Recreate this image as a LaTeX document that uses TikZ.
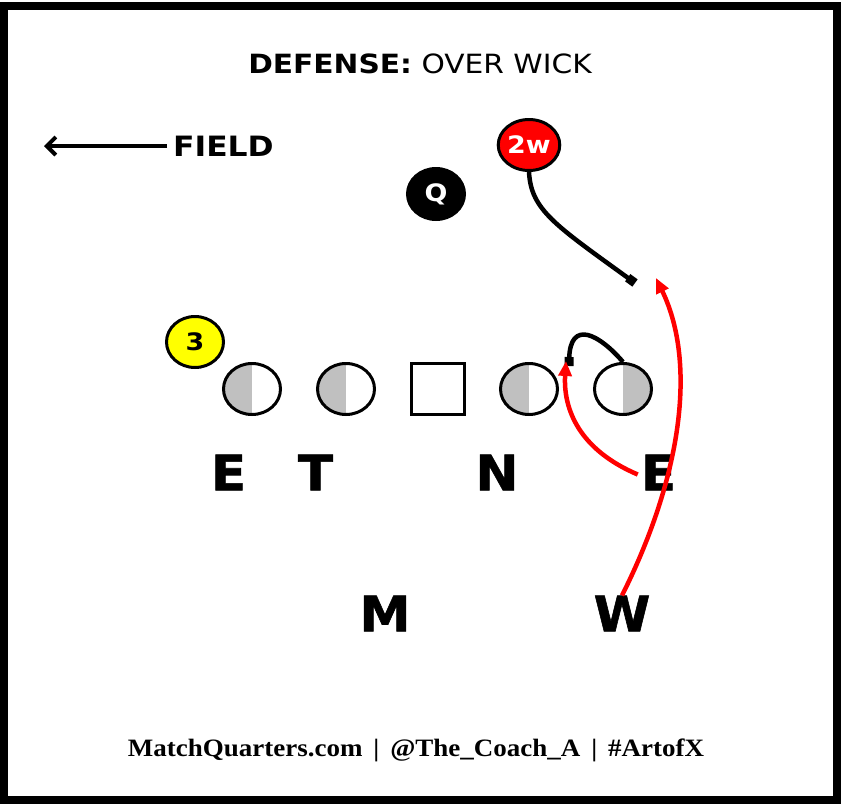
\documentclass[tikz,border=0pt]{standalone}
\usepackage{fontspec}
\setmainfont{DejaVu Sans}
\newfontfamily\widesans{DejaVu Sans}[FakeStretch=1.12]
\newfontfamily\heavysans{DejaVu Sans}[FakeStretch=1.05,FakeBold=1.2]
\newfontfamily\footfont{Liberation Serif}[FakeStretch=1.08]
\usetikzlibrary{arrows.meta,shapes.geometric}
\definecolor{halfgray}{HTML}{C0C0C0}
\definecolor{playred}{HTML}{FF0000}
\definecolor{playyellow}{HTML}{FFFF00}
\begin{document}
\begin{tikzpicture}[x=1pt,y=-1pt,
  player/.style={ellipse,draw=black,line width=3pt,minimum width=57pt,minimum height=51pt,inner sep=0pt,font=\widesans\fontsize{24}{24}\selectfont\bfseries},
  dlinel/.style={player,path picture={\fill[halfgray] (path picture bounding box.south west) rectangle (path picture bounding box.north);}},
  dliner/.style={player,path picture={\fill[halfgray] (path picture bounding box.south) rectangle (path picture bounding box.north east);}},
  centerbox/.style={rectangle,draw=black,line width=3pt,minimum width=53pt,minimum height=51pt,inner sep=0pt},
  bigletter/.style={inner sep=0pt,font=\heavysans\fontsize{49}{49}\selectfont\bfseries},
  blackroute/.style={line width=4.5pt,black,-{Square[length=9pt,width=9pt]}},
  redroute/.style={line width=4.5pt,playred,-{Triangle[length=15pt,width=13pt]}}
]
\useasboundingbox (0,0) rectangle (841,806);
\draw[line width=8pt] (4,5.5) rectangle (837,800);

\node[inner sep=0pt,font=\widesans\fontsize{26.5}{26.5}\selectfont] (title) at (420,64) {\textbf{DEFENSE:} OVER WICK};
\node[inner sep=0pt,font=\widesans\fontsize{28}{28}\selectfont\bfseries] (field) at (223.5,146) {FIELD};
\coordinate (fieldtip) at (44,146);
\draw[line width=4pt,-{Straight Barb[length=9pt,width=18pt]}] (field.west) ++(-6,0) -- (fieldtip);

\node[player,fill=playred,text=white] (twow) at (529,145) {2w};
\node[player,fill=black,text=white] (q) at (436,194) {Q};
\node[player,fill=playyellow,text=black] (three) at (195,342) {3};

\node[dlinel] (de1) at (252,389) {};
\node[dlinel] (dt) at (346,389) {};
\node[centerbox] (c) at (438,389) {};
\node[dlinel] (nt) at (529,389) {};
\node[dliner] (de2) at (623,389) {};

\node[bigletter] (le) at (228.5,472.5) {E};
\node[bigletter] (lt) at (315.5,472.5) {T};
\node[bigletter] (ln) at (497,472.5) {N};
\node[bigletter] (le2) at (658.5,472.5) {E};
\node[bigletter] (lm) at (385,613.5) {M};
\node[bigletter] (lw) at (622,613.5) {W};

\coordinate (twowend) at (635,283);
\coordinate (de2end) at (569,366);
\coordinate (wend) at (656,278);
\coordinate (e2end) at (566,361);

\draw[blackroute] (twow.south) .. controls (531,210) and (555,225) .. (twowend);
\draw[blackroute] (de2.north) .. controls (600,335) and (570,318) .. (de2end);
\draw[redroute] (lw.north) .. controls (680,480) and (698,365) .. (wend);
\draw[redroute] ([xshift=-3pt,yshift=-2pt]le2.west) .. controls (580,450) and (563,410) .. (e2end);

\node[inner sep=0pt,font=\footfont\fontsize{25}{25}\selectfont\bfseries] (foot) at (416,750) {MatchQuarters.com \,|\, @The\_Coach\_A \,|\, \#ArtofX};
\end{tikzpicture}
\end{document}
